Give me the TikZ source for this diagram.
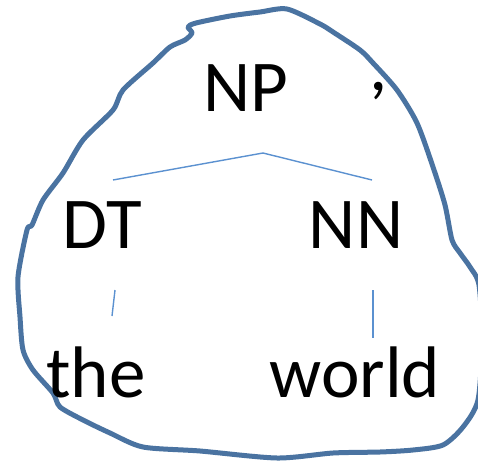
\documentclass[tikz,border=0pt]{standalone}
\usepackage{fontspec}
\setmainfont{Carlito}
\begin{document}
\begin{tikzpicture}[x=1pt,y=-1pt,
  lbl/.style={inner sep=0pt,anchor=base,font=\fontsize{73}{75}\selectfont},
  blob/.style={line width=5pt,draw={rgb,255:red,74;green,115;blue,161},line join=round},
  treeline/.style={line width=1.4pt,draw={rgb,255:red,91;green,145;blue,208}}]
\useasboundingbox (0,0) rectangle (478,462);
\clip (0,0) rectangle (478,462);
\draw[blob] plot[smooth cycle,tension=0.45] coordinates {
 (287,9) (320,24) (333,32) (360,50) (373,63) (397,90) (417,123) (433,167)
 (445,205) (452,240) (460,253) (470,267) (479,285) (482,340) (478,400)
 (463,427) (443,445) (413,450) (380,452) (333,453) (277,458) (200,451)
 (143,447) (110,433) (83,420) (60,407) (53,393) (33,370) (23,350) (20,317)
 (18,277) (27,230) (32,225) (43,200) (63,173) (83,140) (113,110) (123,90)
 (153,63) (170,47) (185,40) (192,33) (188,27) (196,23) (230,16) (260,12)};
\node[lbl] (np) at (246,112) {NP};
\node[lbl] (comma) at (379,91) {,};
\node[lbl] (dt) at (102,248) {DT};
\node[lbl] (nn) at (356,248) {NN};
\node[lbl] (the) at (96,397) {the};
\node[lbl] (world) at (355,397) {world};
\coordinate (npb) at (263,153);
\coordinate (dtt) at (113,180);
\coordinate (nnt) at (372,180);
\coordinate (dtb) at (115,290);
\coordinate (thet) at (112,316);
\coordinate (nnb) at (373,290);
\coordinate (worldt) at (373,338);
\draw[treeline] (dtt) -- (npb) -- (nnt);
\draw[treeline] (dtb) -- (thet);
\draw[treeline] (nnb) -- (worldt);
\end{tikzpicture}
\end{document}
